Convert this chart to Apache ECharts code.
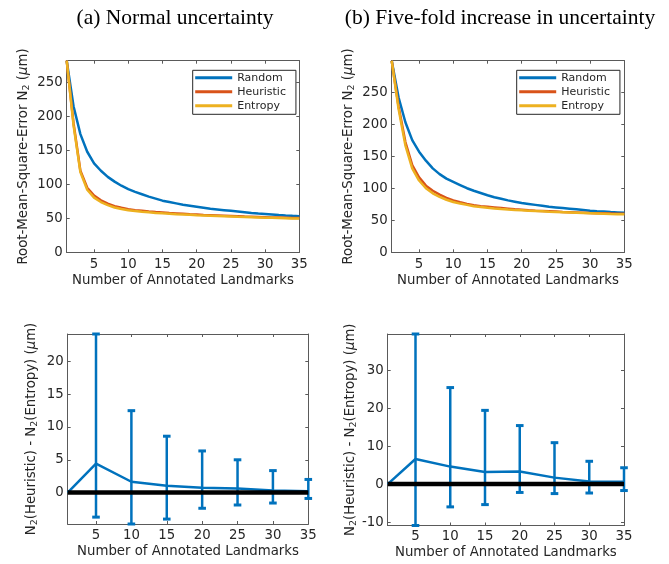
<!DOCTYPE html>
<html>
<head>
<meta charset="utf-8">
<script src="https://cdn.jsdelivr.net/npm/echarts@6/dist/echarts.min.js"></script>
<style>
html,body{margin:0;padding:0;background:#fff;}
#chart{width:669px;height:564px;}
</style>
</head>
<body>
<div id="chart"></div>
<script>
// ---------- data ----------
const landmarks = [1,2,3,4,5,6,7,8,9,10,11,12,13,14,15,16,17,18,19,20,21,22,23,24,25,26,27,28,29,30,31,32,33,34,35];
const seriesNames = ['Random', 'Heuristic', 'Entropy'];

// (a) Normal uncertainty
const rmseRandomA    = [282,215,174,148,131,120,111,104,98,93,89,85.5,82,79,76,74,72,70,68.5,67,65.5,64,63,62,61,60,59,58,57.2,56.5,55.8,55,54.3,53.7,53.2];
const rmseHeuristicA = [282,190,120,95,83.5,76.5,71.5,68,65.5,63.5,62,61,60,59.2,58.5,57.8,57.2,56.6,56,55.5,55,54.6,54.2,53.8,53.4,53,52.6,52.3,52,51.7,51.4,51.1,50.8,50.5,50.3];
const rmseEntropyA   = [282,187,118,92,80.5,74,69.5,66,63.8,62,60.7,59.7,58.8,58,57.3,56.7,56.1,55.6,55.1,54.6,54.2,53.8,53.4,53,52.6,52.2,51.9,51.6,51.3,51,50.7,50.4,50.1,49.8,49.6];

// (b) Five-fold increase in uncertainty
const rmseRandomB    = [299,242,203,175,157,143,131,122,115,110,105,100,96,92.5,89,86,83.5,81,79,77,75.5,74,72.5,71,70,69,68,67,66,65,64.2,63.5,62.8,62.2,61.6];
const rmseHeuristicB = [299,228,172,136,117,104,96,90,85,81,78,75.5,73.5,72,71,70,69,68,67,66.3,65.6,65,64.5,64,63.5,63,62.6,62.2,61.8,61.4,61.1,60.8,60.5,60.2,60];
const rmseEntropyB   = [299,224,167,131,112,100,92,86.5,82,78.5,76,74,72,70.7,69.5,68.5,67.6,66.8,66.1,65.5,64.9,64.4,63.9,63.4,63,62.6,62.2,61.8,61.4,61,60.6,60.2,59.8,59.5,59.2];

// difference N2(Heuristic) - N2(Entropy)
const diffX      = [1,5,10,15,20,25,30,35];
const diffMeanA  = [0,4.4,1.65,1.05,0.75,0.6,0.3,0.2];
const diffMeanB  = [0,6.6,4.6,3.2,3.3,1.7,0.7,0.6];
const errX       = [5,10,15,20,25,30,35];
const errLowA    = [-3.75,-4.8,-4.05,-2.4,-1.9,-1.6,-0.9];
const errHighA   = [24.2,12.5,8.6,6.35,5.0,3.35,2.0];
const errLowB    = [-10.9,-6.0,-5.4,-2.2,-2.5,-2.35,-1.7];
const errHighB   = [39.5,25.4,19.4,15.4,10.9,6.0,4.3];
const zeroLineX  = [1,35];

// axis extents
const xMin = 1, xMax = 35;
const yMaxA = 282, yMaxB = 299;
const dMinA = -4.8, dMaxA = 24.2;
const dMinB = -10.9, dMaxB = 39.5;

// ---------- styling ----------
const C_BLUE = '#0072BD', C_RED = '#D95319', C_YEL = '#EDB120';
const AX = '#5a5a5a', TXT = '#262626';
const FONT = 'DejaVu Sans';
const FS = 13.3;

const pairs = (xs, ys) => xs.map((x, i) => [x, ys[i]]);
const rich = {
  sub: {fontSize: 9.5, fontFamily: FONT, color: TXT, verticalAlign: 'bottom', lineHeight: 9},
  mu: {fontSize: FS, fontFamily: FONT, color: TXT, fontStyle: 'italic'}
};

function multipleOf(step) {
  return v => (Math.abs(v / step - Math.round(v / step)) < 1e-6) ? String(Math.round(v)) : '';
}

function xAxes(grid, nameGap, labelMargin) {
  return [{
    type: 'value', gridIndex: grid, min: xMin, max: xMax, position: 'bottom',
    axisLine: {show: true, onZero: false, lineStyle: {color: AX, width: 1}},
    axisTick: {show: true, inside: true, length: 3, lineStyle: {color: AX}},
    axisLabel: {show: true, color: TXT, fontSize: FS, fontFamily: FONT, margin: labelMargin, formatter: multipleOf(5)},
    splitLine: {show: false},
    name: 'Number of Annotated Landmarks', nameLocation: 'middle', nameGap: nameGap,
    nameTextStyle: {color: TXT, fontSize: FS, fontFamily: FONT}
  }, {
    type: 'value', gridIndex: grid, min: xMin, max: xMax, position: 'top',
    axisLine: {show: true, onZero: false, lineStyle: {color: AX, width: 1}},
    axisTick: {show: true, inside: true, length: 3, lineStyle: {color: AX}},
    axisLabel: {show: false}, splitLine: {show: false}
  }];
}

function yAxes(grid, min, max, step, name, nameGap) {
  return [{
    type: 'value', gridIndex: grid, min: min, max: max, position: 'left',
    axisLine: {show: true, onZero: false, lineStyle: {color: AX, width: 1}},
    axisTick: {show: true, inside: true, length: 3, lineStyle: {color: AX}},
    axisLabel: {show: true, color: TXT, fontSize: FS, fontFamily: FONT, margin: 4, formatter: multipleOf(step)},
    splitLine: {show: false},
    name: name, nameLocation: 'middle', nameGap: nameGap, nameRotate: 90,
    nameTextStyle: {color: TXT, fontSize: FS, fontFamily: FONT, rich: rich, lineHeight: 16}
  }, {
    type: 'value', gridIndex: grid, min: min, max: max, position: 'right',
    axisLine: {show: true, onZero: false, lineStyle: {color: AX, width: 1}},
    axisTick: {show: true, inside: true, length: 3, lineStyle: {color: AX}},
    axisLabel: {show: false}, splitLine: {show: false}
  }];
}

function lineSeries(name, color, xi, yi, data) {
  return {
    name: name, type: 'line', xAxisIndex: xi, yAxisIndex: yi, data: data,
    showSymbol: false, symbol: 'none', lineStyle: {color: color, width: 2.5}, itemStyle: {color: color},
    silent: true, animation: false
  };
}

function errSeries(xi, yi, xs, lo, hi) {
  return {
    type: 'custom', xAxisIndex: xi, yAxisIndex: yi, silent: true, animation: false,
    data: xs.map((x, i) => [x, lo[i], hi[i]]),
    encode: {x: 0, y: [1, 2]},
    renderItem: function (params, api) {
      const x = api.value(0), l = api.value(1), h = api.value(2);
      const p1 = api.coord([x, l]), p2 = api.coord([x, h]);
      const hw = 3.8;
      const st = {stroke: C_BLUE, lineWidth: 2.5, fill: null};
      const cap = {stroke: C_BLUE, lineWidth: 3, fill: null};
      return {type: 'group', children: [
        {type: 'line', shape: {x1: p1[0], y1: p1[1], x2: p2[0], y2: p2[1]}, style: st},
        {type: 'line', shape: {x1: p1[0] - hw, y1: p1[1], x2: p1[0] + hw, y2: p1[1]}, style: cap},
        {type: 'line', shape: {x1: p2[0] - hw, y1: p2[1], x2: p2[0] + hw, y2: p2[1]}, style: cap}
      ]};
    }
  };
}

function legendAt(left, top) {
  return {
    orient: 'vertical', left: left, top: top, data: seriesNames,
    icon: 'rect', itemWidth: 37, itemHeight: 3, itemGap: 1,
    padding: [1, 10, 2, 2.5],
    borderColor: '#262626', borderWidth: 1, backgroundColor: '#fff',
    textStyle: {color: TXT, fontSize: 11, fontFamily: FONT, lineHeight: 13},
    selectedMode: false
  };
}

const nameRMSE = 'Root-Mean-Square-Error N{sub|2} ({mu|μ}m)';
const nameDiff = 'N{sub|2}(Heuristic) - N{sub|2}(Entropy) ({mu|μ}m)';

const option = {
  animation: false,
  backgroundColor: '#fff',
  grid: [
    {left: 66.7, top: 60.7, width: 232.6, height: 191.6, outerBoundsMode: 'none'},
    {left: 391.7, top: 60.7, width: 232.6, height: 191.6, outerBoundsMode: 'none'},
    {left: 67.7, top: 334, width: 240.6, height: 190, outerBoundsMode: 'none'},
    {left: 387.7, top: 334, width: 236.3, height: 191.5, outerBoundsMode: 'none'}
  ],
  xAxis: [].concat(xAxes(0, 22, 6), xAxes(1, 22, 6), xAxes(2, 21, 5), xAxes(3, 21, 5)),
  yAxis: [].concat(
    yAxes(0, 0, yMaxA, 50, nameRMSE, 35),
    yAxes(1, 0, yMaxB, 50, nameRMSE, 35),
    yAxes(2, dMinA, dMaxA, 5, nameDiff, 28),
    yAxes(3, dMinB, dMaxB, 10, nameDiff, 28)
  ),
  legend: [legendAt(192.7, 70.3), legendAt(516.7, 70.3)],
  series: [
    lineSeries('Random', C_BLUE, 0, 0, pairs(landmarks, rmseRandomA)),
    lineSeries('Heuristic', C_RED, 0, 0, pairs(landmarks, rmseHeuristicA)),
    lineSeries('Entropy', C_YEL, 0, 0, pairs(landmarks, rmseEntropyA)),
    lineSeries('Random', C_BLUE, 2, 2, pairs(landmarks, rmseRandomB)),
    lineSeries('Heuristic', C_RED, 2, 2, pairs(landmarks, rmseHeuristicB)),
    lineSeries('Entropy', C_YEL, 2, 2, pairs(landmarks, rmseEntropyB)),
    lineSeries('diffA', C_BLUE, 4, 4, pairs(diffX, diffMeanA)),
    errSeries(4, 4, errX, errLowA, errHighA),
    {type: 'line', xAxisIndex: 4, yAxisIndex: 4, data: pairs(zeroLineX, [0, 0]), showSymbol: false, symbol: 'none',
     lineStyle: {color: '#000', width: 4.5}, silent: true, animation: false},
    lineSeries('diffB', C_BLUE, 6, 6, pairs(diffX, diffMeanB)),
    errSeries(6, 6, errX, errLowB, errHighB),
    {type: 'line', xAxisIndex: 6, yAxisIndex: 6, data: pairs(zeroLineX, [0, 0]), showSymbol: false, symbol: 'none',
     lineStyle: {color: '#000', width: 4.5}, silent: true, animation: false}
  ],
  graphic: [
    {type: 'text', x: 175, y: 18, style: {text: '(a) Normal uncertainty', fill: '#000', font: '21.5px "Liberation Serif"', align: 'center', verticalAlign: 'middle'}},
    {type: 'text', x: 500, y: 18, style: {text: '(b) Five-fold increase in uncertainty', fill: '#000', font: '21.5px "Liberation Serif"', align: 'center', verticalAlign: 'middle'}}
  ]
};

const chart = echarts.init(document.getElementById('chart'), null, {renderer: 'canvas'});
chart.setOption(option);
</script>
</body>
</html>
